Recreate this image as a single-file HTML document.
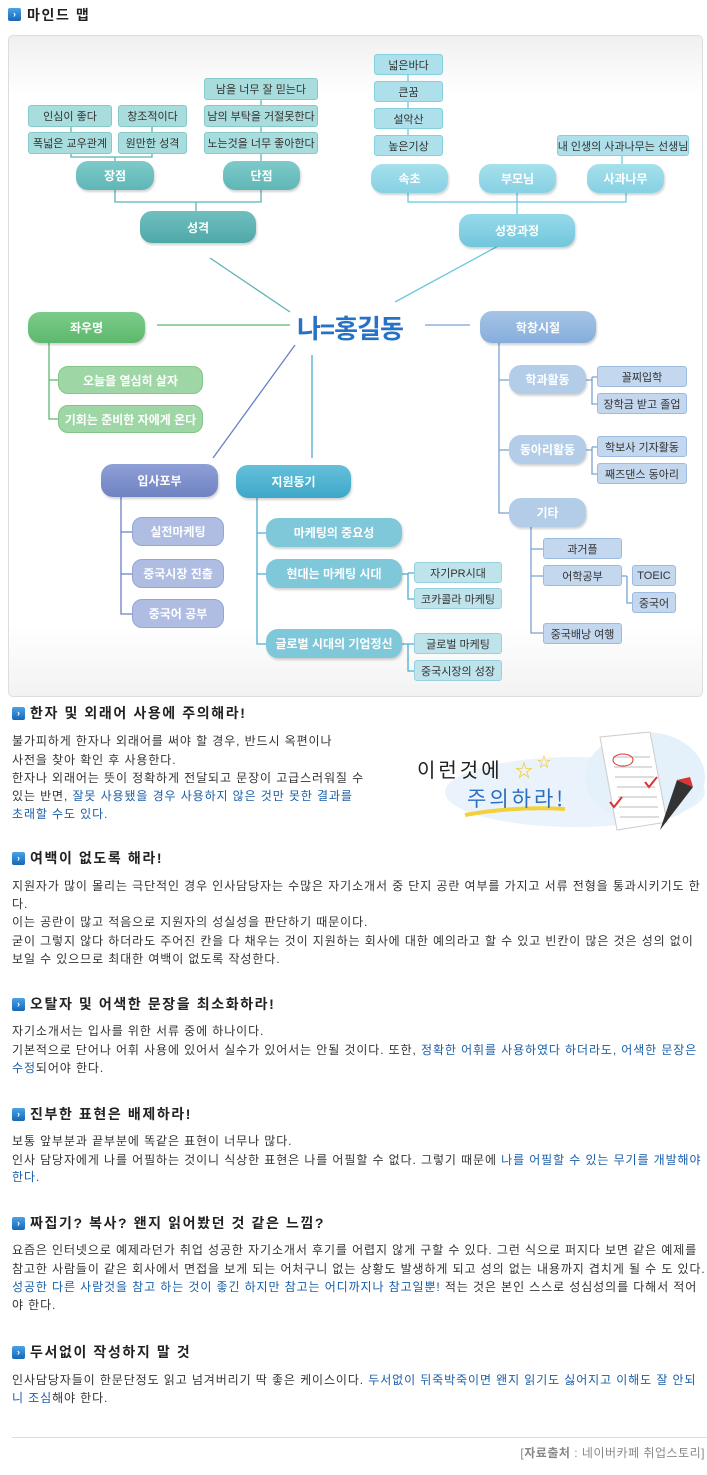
<!DOCTYPE html>
<html><head><meta charset="utf-8">
<style>
*{margin:0;padding:0;box-sizing:border-box}
body{width:707px;height:1475px;background:#fff;position:relative;overflow:hidden;font-family:"Liberation Sans","Noto Sans CJK KR",sans-serif;color:#333}
.a{position:absolute}
.ic{position:absolute;width:13px;height:13px;border-radius:2px;background:linear-gradient(#4aa3e6,#1667b8);color:#fff;font-size:9px;line-height:13px;text-align:center;font-weight:bold}
.h{position:absolute;left:30px;font-size:14px;font-weight:bold;color:#222;white-space:nowrap;line-height:18px;letter-spacing:1.6px}
.t{position:absolute;left:12px;font-size:12px;line-height:18px;white-space:nowrap;color:#333;letter-spacing:0.9px}
.b{color:#1a5ea8}
.bx{position:absolute;display:flex;align-items:center;justify-content:center;font-size:11px;color:#333;border-radius:3px;white-space:nowrap}
.pl{position:absolute;display:flex;align-items:center;justify-content:center;font-size:12px;font-weight:bold;color:#fff;border-radius:12px;white-space:nowrap;box-shadow:1px 2px 2px rgba(0,0,0,.18)}
.tl{background:#a9dcdc;border:1px solid #86c9c9}
.lb{background:#ade0ea;border:1px solid #86cfdf}
.gs{background:#9fd6a6;border:1px solid #80c58a;color:#fff;font-weight:bold;font-size:12px;border-radius:10px}
.bs{background:#c3d7ee;border:1px solid #9dbbe0}
.ps{background:#b0bde3;border:1px solid #94a5d6;color:#fff;font-weight:bold;font-size:12px;border-radius:10px}
.cs{background:#bfe3ea;border:1px solid #98d1dd}
</style></head><body>
<div class="ic" style="left:8px;top:8px">›</div>
<div class="h" style="left:27px;top:6px">마인드 맵</div>

<div class="a" style="left:8px;top:35px;width:695px;height:662px;border:1px solid #ddd;border-radius:5px;background:linear-gradient(#f0f0f0 0,#fff 60px,#fff 590px,#f2f2f2 662px)"></div>

<svg class="a" style="left:0;top:0" width="707" height="700">
<g fill="none" stroke-width="1.3">
<g stroke="#5cb3b3">
<path d="M71 127V132M152 127V132M261 100V105M261 127V132"/>
<path d="M71 154V157H152V154M115 157V161"/>
<path d="M261 154V161"/>
<path d="M115 190V202H261V190M196 202V211"/>
<path d="M210 258L290 312"/>
</g>
<g stroke="#6cc8dc">
<path d="M408 75V81M408 102V108M408 129V135M622 156V164"/>
<path d="M408 193V202H626V193M517 193V214"/>
<path d="M395 302L500 245"/>
</g>
<g stroke="#5cb870"><path d="M157 325H290"/><path d="M49 343V380H58M49 380V419H58"/></g>
<g stroke="#7aa2d4"><path d="M425 325H470"/><path d="M499 343V513H509M499 380H509M499 450H509"/>
<path d="M586 380H592M592 377V404H597M592 377H597"/>
<path d="M586 450H592M592 447V474H597M592 447H597"/>
<path d="M531 527V633H543M531 549H543M531 576H543M622 576H627M627 576V603H632"/>
</g>
<g stroke="#6a80c4"><path d="M295 345L213 458"/><path d="M121 497V614H132M121 532H132M121 574H132"/></g>
<g stroke="#4aaed0"><path d="M312 355V458"/><path d="M257 498V644H266M257 533H266M257 574H266"/>
<path d="M402 574H408M408 573V599H414M408 573H414"/>
<path d="M402 644H408M408 644V671H414M408 644H414"/>
</g>
</g>
</svg>

<div class="bx tl" style="left:28px;top:105px;width:84px;height:22px">인심이 좋다</div>
<div class="bx tl" style="left:118px;top:105px;width:69px;height:22px">창조적이다</div>
<div class="bx tl" style="left:28px;top:132px;width:84px;height:22px">폭넓은 교우관계</div>
<div class="bx tl" style="left:118px;top:132px;width:69px;height:22px">원만한 성격</div>
<div class="bx tl" style="left:204px;top:78px;width:114px;height:22px">남을 너무 잘 믿는다</div>
<div class="bx tl" style="left:204px;top:105px;width:114px;height:22px">남의 부탁을 거절못한다</div>
<div class="bx tl" style="left:204px;top:132px;width:114px;height:22px">노는것을 너무 좋아한다</div>
<div class="pl" style="left:76px;top:161px;width:78px;height:29px;background:linear-gradient(#7fcaca,#5fb6b6)">장점</div>
<div class="pl" style="left:223px;top:161px;width:77px;height:29px;background:linear-gradient(#7fcaca,#5fb6b6)">단점</div>
<div class="pl" style="left:140px;top:211px;width:116px;height:32px;background:linear-gradient(#70bfbf,#4fa8a8)">성격</div>

<div class="bx lb" style="left:374px;top:54px;width:69px;height:21px">넓은바다</div>
<div class="bx lb" style="left:374px;top:81px;width:69px;height:21px">큰꿈</div>
<div class="bx lb" style="left:374px;top:108px;width:69px;height:21px">설악산</div>
<div class="bx lb" style="left:374px;top:135px;width:69px;height:21px">높은기상</div>
<div class="bx lb" style="left:557px;top:135px;width:132px;height:21px">내 인생의 사과나무는 선생님</div>
<div class="pl" style="left:371px;top:164px;width:77px;height:29px;background:linear-gradient(#a6e0ec,#86d1e2)">속초</div>
<div class="pl" style="left:479px;top:164px;width:77px;height:29px;background:linear-gradient(#a6e0ec,#86d1e2)">부모님</div>
<div class="pl" style="left:587px;top:164px;width:77px;height:29px;background:linear-gradient(#a6e0ec,#86d1e2)">사과나무</div>
<div class="pl" style="left:459px;top:214px;width:116px;height:33px;background:linear-gradient(#96daea,#72c6dc)">성장과정</div>

<div class="a" style="left:297px;top:309px;font-size:26px;font-weight:bold;color:#2672c6;letter-spacing:-1px;white-space:nowrap">나=홍길동</div>

<div class="pl" style="left:28px;top:312px;width:117px;height:31px;background:linear-gradient(#7dcc8a,#5cb86c)">좌우명</div>
<div class="bx gs" style="left:58px;top:366px;width:145px;height:28px">오늘을 열심히 살자</div>
<div class="bx gs" style="left:58px;top:405px;width:145px;height:28px">기회는 준비한 자에게 온다</div>

<div class="pl" style="left:480px;top:311px;width:116px;height:32px;background:linear-gradient(#a5c4e6,#86aedc)">학창시절</div>
<div class="pl" style="left:509px;top:365px;width:77px;height:29px;background:#b3cde9">학과활동</div>
<div class="pl" style="left:509px;top:435px;width:77px;height:29px;background:#b3cde9">동아리활동</div>
<div class="pl" style="left:509px;top:498px;width:77px;height:29px;background:#b3cde9">기타</div>
<div class="bx bs" style="left:597px;top:366px;width:90px;height:21px">꼴찌입학</div>
<div class="bx bs" style="left:597px;top:393px;width:90px;height:21px">장학금 받고 졸업</div>
<div class="bx bs" style="left:597px;top:436px;width:90px;height:21px">학보사 기자활동</div>
<div class="bx bs" style="left:597px;top:463px;width:90px;height:21px">째즈댄스 동아리</div>
<div class="bx bs" style="left:543px;top:538px;width:79px;height:21px">과거플</div>
<div class="bx bs" style="left:543px;top:565px;width:79px;height:21px">어학공부</div>
<div class="bx bs" style="left:632px;top:565px;width:44px;height:21px">TOEIC</div>
<div class="bx bs" style="left:632px;top:592px;width:44px;height:21px">중국어</div>
<div class="bx bs" style="left:543px;top:623px;width:79px;height:21px">중국배낭 여행</div>

<div class="pl" style="left:101px;top:464px;width:117px;height:33px;background:linear-gradient(#8f9fd6,#6f83c2)">입사포부</div>
<div class="bx ps" style="left:132px;top:517px;width:92px;height:29px">실전마케팅</div>
<div class="bx ps" style="left:132px;top:559px;width:92px;height:29px">중국시장 진출</div>
<div class="bx ps" style="left:132px;top:599px;width:92px;height:29px">중국어 공부</div>

<div class="pl" style="left:236px;top:465px;width:115px;height:33px;background:linear-gradient(#65c0db,#3ea8c8)">지원동기</div>
<div class="pl" style="left:266px;top:518px;width:136px;height:29px;background:#7fc8da">마케팅의 중요성</div>
<div class="pl" style="left:266px;top:559px;width:136px;height:29px;background:#7fc8da">현대는 마케팅 시대</div>
<div class="pl" style="left:266px;top:629px;width:136px;height:29px;background:#7fc8da">글로벌 시대의 기업정신</div>
<div class="bx cs" style="left:414px;top:562px;width:88px;height:21px">자기PR시대</div>
<div class="bx cs" style="left:414px;top:588px;width:88px;height:21px">코카콜라 마케팅</div>
<div class="bx cs" style="left:414px;top:633px;width:88px;height:21px">글로벌 마케팅</div>
<div class="bx cs" style="left:414px;top:660px;width:88px;height:21px">중국시장의 성장</div>

<!-- section 1 -->
<div class="ic" style="left:12px;top:707px">›</div>
<div class="h" style="top:704px">한자 및 외래어 사용에 주의해라!</div>
<div class="t" style="top:732px">불가피하게 한자나 외래어를 써야 할 경우, 반드시 옥편이나</div>
<div class="t" style="top:751px">사전을 찾아 확인 후 사용한다.</div>
<div class="t" style="top:769px">한자나 외래어는 뜻이 정확하게 전달되고 문장이 고급스러워질 수</div>
<div class="t" style="top:787px">있는 반면, <span class="b">잘못 사용됐을 경우 사용하지 않은 것만 못한 결과를</span></div>
<div class="t" style="top:805px"><span class="b">초래할 수도 있다.</span></div>

<svg class="a" style="left:405px;top:722px" width="300" height="115">
<ellipse cx="170" cy="70" rx="130" ry="35" fill="#eaf3fb"/>
<ellipse cx="240" cy="55" rx="60" ry="45" fill="#e4f0fa"/>
<path d="M195 15L245 10L262 100L212 108Z" fill="#fff" stroke="#ccc"/>
<g stroke="#bbb" stroke-width="1"><path d="M208 35H245M209 45H247M210 55H249M212 65H250M213 75H252M214 85H253M215 95H254"/></g>
<ellipse cx="218" cy="38" rx="10" ry="6" fill="none" stroke="#d33"/>
<path d="M240 60l4 5l8 -10M205 80l4 5l8 -10" stroke="#d33" stroke-width="2" fill="none"/>
<path d="M272 58L288 65L255 108Z" fill="#333"/>
<path d="M272 58L288 65L285 55Z" fill="#d33"/>
<path d="M60 93Q110 84 160 87" stroke="#f2d13a" stroke-width="4" fill="none"/>
<text x="12" y="55" font-size="20" fill="#222" font-family="Noto Sans CJK KR,sans-serif" letter-spacing="3">이런것에</text>
<text x="62" y="84" font-size="21" fill="#2b6fc0" font-family="Noto Sans CJK KR,sans-serif" letter-spacing="3">주의하라!</text>
<text x="110" y="55" font-size="18" fill="#f2c51a">☆</text>
<text x="132" y="45" font-size="14" fill="#f2c51a">☆</text>
</svg>

<!-- section 2 -->
<div class="ic" style="left:12px;top:852px">›</div>
<div class="h" style="top:849px">여백이 없도록 해라!</div>
<div class="t" style="top:877px">지원자가 많이 몰리는 극단적인 경우 인사담당자는 수많은 자기소개서 중 단지 공란 여부를 가지고 서류 전형을 통과시키기도 한</div>
<div class="t" style="top:895px">다.</div>
<div class="t" style="top:913px">이는 공란이 많고 적음으로 지원자의 성실성을 판단하기 때문이다.</div>
<div class="t" style="top:932px">굳이 그렇지 않다 하더라도 주어진 칸을 다 채우는 것이 지원하는 회사에 대한 예의라고 할 수 있고 빈칸이 많은 것은 성의 없이</div>
<div class="t" style="top:950px">보일 수 있으므로 최대한 여백이 없도록 작성한다.</div>

<!-- section 3 -->
<div class="ic" style="left:12px;top:998px">›</div>
<div class="h" style="top:995px">오탈자 및 어색한 문장을 최소화하라!</div>
<div class="t" style="top:1022px">자기소개서는 입사를 위한 서류 중에 하나이다.</div>
<div class="t" style="top:1041px">기본적으로 단어나 어휘 사용에 있어서 실수가 있어서는 안될 것이다. 또한, <span class="b">정확한 어휘를 사용하였다 하더라도, 어색한 문장은</span></div>
<div class="t" style="top:1059px"><span class="b">수정</span>되어야 한다.</div>

<!-- section 4 -->
<div class="ic" style="left:12px;top:1108px">›</div>
<div class="h" style="top:1105px">진부한 표현은 배제하라!</div>
<div class="t" style="top:1132px">보통 앞부분과 끝부분에 똑같은 표현이 너무나 많다.</div>
<div class="t" style="top:1151px">인사 담당자에게 나를 어필하는 것이니 식상한 표현은 나를 어필할 수 없다. 그렇기 때문에 <span class="b">나를 어필할 수 있는 무기를 개발해야</span></div>
<div class="t" style="top:1168px"><span class="b">한다.</span></div>

<!-- section 5 -->
<div class="ic" style="left:12px;top:1217px">›</div>
<div class="h" style="top:1214px">짜집기? 복사? 왠지 읽어봤던 것 같은 느낌?</div>
<div class="t" style="top:1241px">요즘은 인터넷으로 예제라던가 취업 성공한 자기소개서 후기를 어렵지 않게 구할 수 있다. 그런 식으로 퍼지다 보면 같은 예제를</div>
<div class="t" style="top:1260px">참고한 사람들이 같은 회사에서 면접을 보게 되는 어처구니 없는 상황도 발생하게 되고 성의 없는 내용까지 겹치게 될 수 도 있다.</div>
<div class="t" style="top:1278px"><span class="b">성공한 다른 사람것을 참고 하는 것이 좋긴 하지만 참고는 어디까지나 참고일뿐!</span> 적는 것은 본인 스스로 성심성의를 다해서 적어</div>
<div class="t" style="top:1296px">야 한다.</div>

<!-- section 6 -->
<div class="ic" style="left:12px;top:1346px">›</div>
<div class="h" style="top:1343px">두서없이 작성하지 말 것</div>
<div class="t" style="top:1371px">인사담당자들이 한문단정도 읽고 넘겨버리기 딱 좋은 케이스이다. <span class="b">두서없이 뒤죽박죽이면 왠지 읽기도 싫어지고 이해도 잘 안되</span></div>
<div class="t" style="top:1389px"><span class="b">니 조심</span>해야 한다.</div>

<div class="a" style="left:12px;top:1437px;width:695px;height:1px;background:#ddd"></div>
<div class="a" style="right:2px;top:1444px;font-size:12px;color:#888;white-space:nowrap;letter-spacing:0.5px">[<b>자료출처</b> : 네이버카페 취업스토리]</div>
</body></html>
